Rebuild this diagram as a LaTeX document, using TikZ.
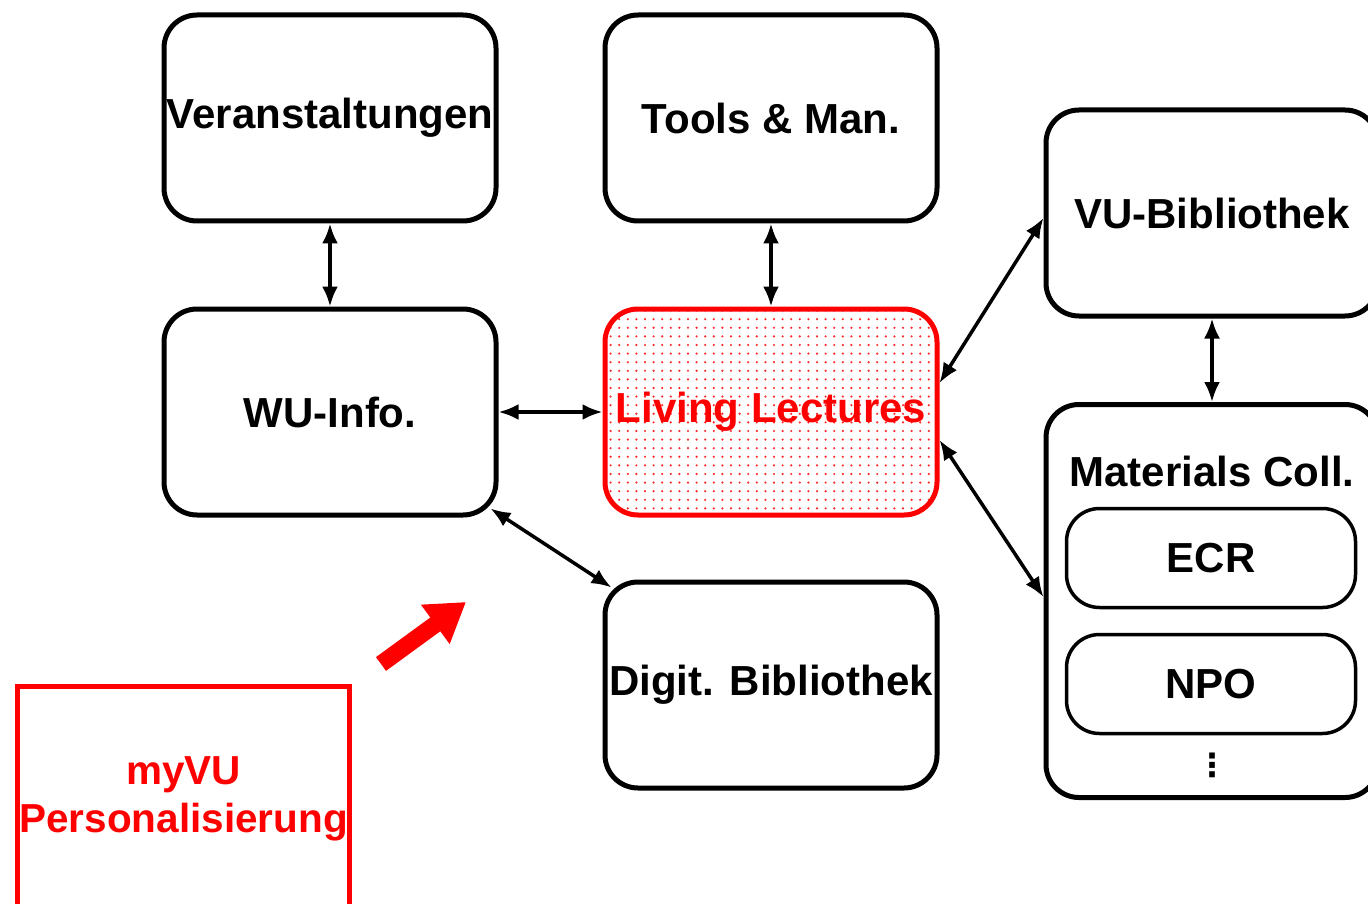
\documentclass[tikz,border=0pt]{standalone}
\usepackage{fontspec}
\setmainfont{Liberation Sans}
\newfontfamily\dotfont{DejaVu Sans}
\usetikzlibrary{arrows.meta,patterns.meta}

\begin{document}
\begin{tikzpicture}[x=1pt,y=-1pt,
                        line width=5pt,
        box/.style={draw, rounded corners=33pt, inner sep=0pt,
                        minimum width=332pt, minimum height=206pt,
                        font=\bfseries\fontsize{42}{49}\selectfont},
        sub/.style={box, line width=3.5pt,
                        minimum width=289pt, minimum height=99pt},
        lnk/.style={line width=3.5pt,
                        {Latex[length=20pt,width=16pt]}-{Latex[length=20pt,width=16pt]}}]
    \useasboundingbox (0,0) rectangle (1368,904);
    \clip (0,0) rectangle (1368,904);
            \node[box] (ver) at (330,118) {Veranstaltungen};
            \node[box] (tools) at (771,118) {Tools \& Man.};
            \node[box] (wu) at (330,412) {WU-Info.};
            \node[box, draw=red, text=red,
                pattern={Dots[distance=8.6pt,radius=1.2pt]}, pattern color=red!85]
                (ll) at (771,412) {Living Lectures};
            \node[box] (dig) at (771,685) {Digit. Bibliothek};
            \node[box] (vub) at (1212,213) {VU-Bibliothek};
            \node[box, minimum height=393pt] (mat) at (1212,601) {};
            \node[font=\bfseries\fontsize{42}{48}\selectfont] (mattitle) at (1212,471) {Materials Coll.};
            \node[sub] (ecr) at (1211,558) {ECR};
            \node[sub] (npo) at (1211,684) {NPO};
            \node[font=\dotfont\bfseries\fontsize{32}{32}\selectfont] (more) at (1212,765) {⋮};
            \node[box, draw=red, text=red, rounded corners=0pt, align=center,
                minimum height=225pt, font=\bfseries\fontsize{40.5}{48}\selectfont]
                (myvu) at (183.5,799) {myVU\\Personalisierung};
    % connectors
            \draw[lnk] (ver) -- (wu);
            \draw[lnk] (tools) -- (ll);
            \draw[lnk] (wu) -- (ll);
            \draw[lnk] ([xshift=-8pt,yshift=9pt]wu.south east) -- ([xshift=9pt,yshift=-8pt]dig.north west);
            \draw[lnk] ([yshift=29pt]ll.east) -- ([yshift=-5pt]vub.west);
            \draw[lnk] ([yshift=-28pt]ll.east) -- ([yshift=4pt]mat.west);
            \draw[lnk] (vub) -- (mat);
            \coordinate (from) at (381,664);
            \coordinate (to) at (466,602);
            \draw[red, line width=17pt, -{Triangle[length=38pt,width=46pt]}] (from) -- (to);
    \end{tikzpicture}
\end{document}
